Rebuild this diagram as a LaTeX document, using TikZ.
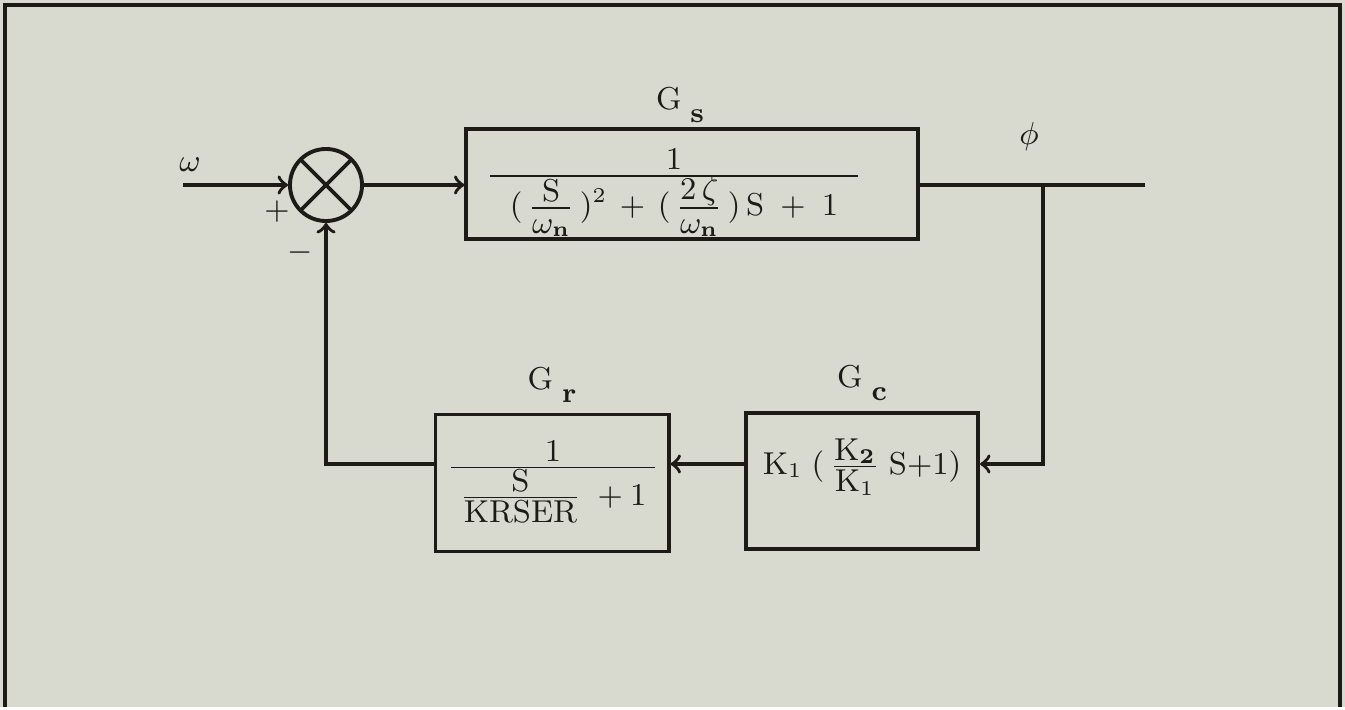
\documentclass[tikz,border=0pt]{standalone}
\usepackage{amsmath}
\usepackage{xcolor}
\usepackage{tikz}
\usetikzlibrary{shapes,arrows,positioning}

\definecolor{paper}{RGB}{216,218,208}
\definecolor{ink}{RGB}{28,27,24}

% fraction with full size parts but small gaps
\newcommand{\flatfrac}[2]{\frac{\textstyle #1\rule[-1.2pt]{0pt}{0pt}}{\textstyle\rule{0pt}{6.6pt}#2}}
\newcommand{\blockname}[2]{#1\;\raisebox{-0.95ex}{\footnotesize\bfseries #2}}

\begin{document}
\begin{tikzpicture}[
    x=0.01cm, y=-0.01cm,
    color=ink,
    node distance=0.06cm,
    block/.style={rectangle, draw, line width=1.1pt, inner sep=0pt},
    expr/.style={font=\small, inner sep=1pt},
    tag/.style={font=\small, inner sep=1pt},
    sumnode/.style={circle, draw, line width=1.1pt, minimum size=0.72cm, inner sep=0pt,
        path picture={\draw[line width=1.1pt]
            (path picture bounding box.north west) -- (path picture bounding box.south east)
            (path picture bounding box.north east) -- (path picture bounding box.south west);}},
    arrow/.style={->, >=to, line width=1pt},
    wire/.style={line width=1pt}
]
    % paper and frame
    \fill[paper] (0,0) rectangle (1345,707);
    \draw[line width=1.2pt] (5,707) -- (5,5) -- (1340,5) -- (1340,707);

    % blocks
    \node[sumnode] (sum) at (326,185) {};
    \node[block, minimum width=4.51cm, minimum height=1.10cm] (gs) at (692,184) {};
    \node[block, minimum width=2.33cm, minimum height=1.37cm] (gr) at (552,483) {};
    \node[block, minimum width=2.32cm, minimum height=1.36cm] (gc) at (862,481) {};

    % transfer functions
    \node[expr] (gsexpr) at (674,193)
        {$\flatfrac{1}{\hspace{0.2cm}(\,\flatfrac{\mathrm{S}}{\omega_{\mathbf n}}\,)^{2}\,+\,(\,\flatfrac{2\,\zeta}{\omega_{\mathbf n}}\,)\,\mathrm{S}\;+\;1\hspace{0.2cm}}$};
    \node[expr] (grexpr) at (553,482)
        {$\flatfrac{1}{\;\flatfrac{\mathrm{S}}{\mathrm{KRSER}}\;+1\;}$};
    \node[expr] (gcexpr) at (862,467)
        {$\mathrm{K}_1\;(\,\flatfrac{\mathrm{K}_{\mathbf 2}}{\mathrm{K}_1}\;\mathrm{S}{+}1)$};

    % block names
    \node[tag, above=0cm of gs, xshift=-0.12cm] (gsname) {\blockname{G}{s}};
    \node[tag, above=of gr] (grname) {\blockname{G}{r}};
    \node[tag, above=of gc] (gcname) {\blockname{G}{c}};

    % signals
    \node[tag] (omega) at (190,165) {$\omega$};
    \node[tag] (phi) at (1029,137) {$\phi$};
    \node[tag] (plus) at (277,212) {$+$};
    \node[tag] (minus) at (300,253) {$-$};

    \coordinate (src) at (183,185);
    \coordinate (tap) at (1043,185);
    \coordinate (sink) at (1145,185);
    \coordinate (row) at (1043,464);

    % forward path
    \draw[arrow] (src) -- (sum.west);
    \draw[arrow] (sum.east) -- (sum.east -| gs.west);
    \draw[wire] (gs.east |- tap) -- (sink);

    % feedback path
    \draw[arrow] (tap) -- (row) -- (row -| gc.east);
    \draw[arrow] (row -| gc.west) -- (row -| gr.east);
    \draw[arrow] (row -| gr.west) -- (row -| sum.south) -- (sum.south);
\end{tikzpicture}
\end{document}
